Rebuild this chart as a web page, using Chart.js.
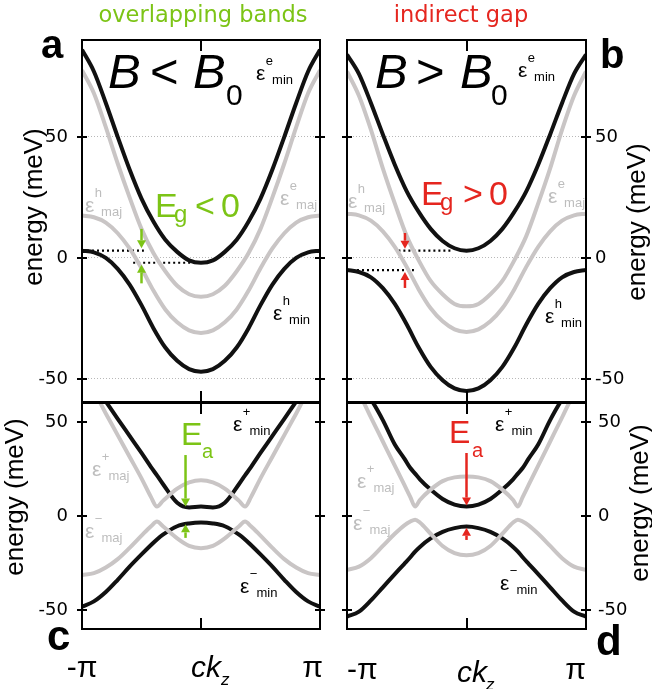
<!DOCTYPE html>
<html><head><meta charset="utf-8">
<script src="https://cdn.jsdelivr.net/npm/chart.js@4.4.1/dist/chart.umd.min.js"></script>
<style>
html,body{margin:0;padding:0;background:#fff;}
#wrap{position:relative;width:652px;height:689px;overflow:hidden;}
canvas{position:absolute;left:0;top:0;}
</style></head><body><div id="wrap">
<canvas id="ca" width="652" height="689"></canvas>
<canvas id="cb" width="652" height="689"></canvas>
<canvas id="cc" width="652" height="689"></canvas>
<canvas id="cd" width="652" height="689"></canvas>
</div>
<script>
// ---------- data (x in units of pi, energies in meV) ----------
const kzAB = [-1,-0.9,-0.8,-0.7,-0.6,-0.5,-0.4,-0.3,-0.2,-0.1,0,0.1,0.2,0.3,0.4,0.5,0.6,0.7,0.8,0.9,1];
const a_eMin = [86,77,64,50,36.5,24.5,15,7.5,2.5,-1,-2,-1,2.5,7.5,15,24.5,36.5,50,64,77,86];
const a_eMaj = [77.5,68,54,39,25,12,2,-5.5,-11.5,-15,-16,-15,-11.5,-5.5,2,12,25,39,54,68,77.5];
const a_hMaj = [17.5,16.8,14.6,10.2,3.9,-4.3,-13.5,-21.3,-26.6,-29.9,-31,-29.9,-26.6,-21.3,-13.5,-4.3,3.9,10.2,14.6,16.8,17.5];
const a_hMin = [3,2.3,0,-4.5,-11,-19.5,-29,-37,-42.5,-45.9,-47,-45.9,-42.5,-37,-29,-19.5,-11,-4.5,0,2.3,3];
const b_eMin = [84,76,64,51,38.5,27.5,19,12,7,4,3,4,7,12,19,27.5,38.5,51,64,76,84];
const b_eMaj = [77,67,53,37,22.5,9,-1,-9.5,-15,-19,-20,-19,-15,-9.5,-1,9,22.5,37,53,67,77];
const b_hMaj = [18.3,17.6,15.4,11,4.6,-3.7,-13,-20.8,-26.2,-29.5,-30.6,-29.5,-26.2,-20.8,-13,-3.7,4.6,11,15.4,17.6,18.3];
const b_hMin = [-5,-5.8,-8,-12.5,-19,-27.5,-37,-45,-50.5,-53.9,-55,-53.9,-50.5,-45,-37,-27.5,-19,-12.5,-8,-5.8,-5];

const kzC = [-1,-0.9,-0.8,-0.7,-0.6,-0.5,-0.42,-0.37,-0.32,-0.2,-0.1,0,0.1,0.2,0.32,0.37,0.42,0.5,0.6,0.7,0.8,0.9,1];
const c_pMin = [75,70,60.9,51.7,42.6,33.5,26,21.6,17,7,4.5,5,4.5,7,17,21.6,26,33.5,42.6,51.7,60.9,70,75];
const c_pMaj = [72,66,54.5,43,31.5,20,10,5,8,14.5,17.8,19,17.8,14.5,8,5,10,20,31.5,43,54.5,66,72];
const c_mMaj = [-31.4,-30.5,-27.5,-23,-17,-10.5,-5.5,-3,-5.5,-12,-16,-17.2,-16,-12,-5.5,-3,-5.5,-10.5,-17,-23,-27.5,-30.5,-31.4];
const c_mMin = [-48.3,-45.5,-40.5,-34,-27,-20.5,-15.5,-12.5,-10,-5.5,-4,-3.5,-4,-5.5,-10,-12.5,-15.5,-20.5,-27,-34,-40.5,-45.5,-48.3];

const kzD = [-1,-0.9,-0.8,-0.7,-0.6,-0.52,-0.47,-0.43,-0.39,-0.3,-0.2,-0.1,0,0.1,0.2,0.3,0.39,0.43,0.47,0.52,0.6,0.7,0.8,0.9,1];
const d_pMin = [74,70,62,51,38,30.5,25.5,22.5,19.5,14,9,6,5,6,9,14,19.5,22.5,25.5,30.5,38,51,62,70,74];
const d_pMaj = [72,65,52.4,39.6,26.8,16.5,10,5,8.5,14,18.5,20.5,21,20.5,18.5,14,8.5,5,10,16.5,26.8,39.6,52.4,65,72];
const d_mMaj = [-28.7,-27,-22.5,-16,-9.5,-5,-3,-2,-3.5,-9.5,-16,-19.8,-21,-19.8,-16,-9.5,-3.5,-2,-3,-5,-9.5,-16,-22.5,-27,-28.7];
const d_mMin = [-53.6,-51,-45,-38,-31,-25.5,-22,-19,-16.5,-12,-8.5,-6.5,-5.7,-6.5,-8.5,-12,-16.5,-19,-22,-25.5,-31,-38,-45,-51,-53.6];

const yTicks = [-50, 0, 50];
const xTicks = [-1, 0, 1];
const xTickLabelsC = ['-π', '', 'π\u2002'];
const xTickLabelsD = ['-π', '', 'π'];

// gap markers (data units)
const a_gapLines = {upper: {x: [-1, -0.48], y: 3}, lower: {x: [-0.57, -0.03], y: -2}};
const b_gapLines = {upper: {x: [-0.57, -0.11], y: 3}, lower: {x: [-1, -0.44], y: -5}};

// ---------- styles ----------
const GREEN = '#7cc416', RED = '#e5261f', GREY = '#c9c5c5', GREYTXT = '#bdbdbd', BLACK = '#111111';
const SANS = '"Liberation Sans", Arial, sans-serif';
const DJ = '"DejaVu Sans", sans-serif';

function curve(kz, vals, color) {
  return {data: kz.map((x, i) => ({x, y: vals[i]})), borderColor: color, borderWidth: 4,
          pointRadius: 0, cubicInterpolationMode: 'monotone', fill: false};
}
function dotted(seg) {
  return {data: seg.x.map(x => ({x, y: seg.y})), borderColor: '#000', borderWidth: 2.2,
          borderDash: [2, 3], pointRadius: 0, fill: false};
}

function txt(ctx, s, x, y, o) {
  ctx.save();
  ctx.font = (o.style || 'normal') + ' ' + (o.weight || 'normal') + ' ' + o.size + 'px ' + (o.family || SANS);
  ctx.fillStyle = o.color || '#000';
  ctx.textAlign = o.align || 'left';
  ctx.textBaseline = o.baseline || 'alphabetic';
  ctx.translate(x, y);
  if (o.rot) ctx.rotate(o.rot);
  ctx.fillText(s, 0, 0);
  ctx.restore();
}
function eps(ctx, x, y, sup, sub, color) {
  ctx.save();
  ctx.fillStyle = color; ctx.textAlign = 'left'; ctx.textBaseline = 'alphabetic';
  ctx.font = '21px ' + SANS; ctx.fillText('ε', x, y);
  const w = ctx.measureText('ε').width;
  ctx.font = '13px ' + SANS; ctx.fillText(sup, x + w + 0.5, y - 15);
  const ws = ctx.measureText(sup).width;
  ctx.fillText(sub, x + w + ws - 0.5, y + 4);
  ctx.restore();
}
function arrow(ctx, x, y0, y1, color) {
  const dir = Math.sign(y1 - y0), hl = 8, hw = 4.5;
  ctx.save(); ctx.strokeStyle = color; ctx.fillStyle = color; ctx.lineWidth = 2.5;
  ctx.beginPath(); ctx.moveTo(x, y0); ctx.lineTo(x, y1 - dir * hl); ctx.stroke();
  ctx.beginPath(); ctx.moveTo(x, y1); ctx.lineTo(x - hw, y1 - dir * hl); ctx.lineTo(x + hw, y1 - dir * hl);
  ctx.closePath(); ctx.fill(); ctx.restore();
}
function ytitle(ctx, cx, cy) {
  txt(ctx, 'energy (meV)', cx, cy, {size: 26, family: SANS, align: 'center', baseline: 'middle', rot: -Math.PI / 2});
}

const drawers = {};
const panelPlugin = {
  id: 'panel',
  afterDatasetsDraw(chart) {
    const draw = drawers[chart.canvas.id];
    const ctx = chart.ctx, a = chart.chartArea, xs = chart.scales.x, ys = chart.scales.y;
    ctx.save();
    ctx.strokeStyle = '#000'; ctx.lineWidth = 2;
    ctx.strokeRect(a.left, a.top, a.right - a.left, a.bottom - a.top);
    ctx.beginPath();
    yTicks.forEach(v => {
      const py = Math.round(ys.getPixelForValue(v));
      ctx.moveTo(a.left - 5, py); ctx.lineTo(a.left + 5, py);
      ctx.moveTo(a.right - 5, py); ctx.lineTo(a.right + 5, py);
    });
    const cx = Math.round(xs.getPixelForValue(0));
    ctx.moveTo(cx, a.top); ctx.lineTo(cx, a.top + 11);
    ctx.moveTo(cx, a.bottom); ctx.lineTo(cx, a.bottom - 11);
    ctx.stroke();
    ctx.restore();
    const P = (x, y) => [xs.getPixelForValue(x), ys.getPixelForValue(y)];
    if (draw) draw(ctx, P);
  }
};
Chart.register(panelPlugin);

function makeChart(id, c) {
  const W = 652, H = 689;
  const axisW = c.side === 'left' ? c.left : W - c.right;
  const pad = {
    left: c.side === 'left' ? 0 : c.left,
    right: c.side === 'left' ? W - c.right : 0,
    top: c.top,
    bottom: H - c.bottom - (c.xaxis ? 60 : 0)
  };
  drawers[id] = c.draw;
  const showX = !!c.xaxis;
  const xl = c.xlabels || xTickLabelsD;
  return new Chart(document.getElementById(id), {
    type: 'line',
    data: {datasets: c.datasets},
    options: {
      responsive: false, animation: false, devicePixelRatio: 1,
      layout: {padding: pad},
      plugins: {legend: {display: false}, tooltip: {enabled: false}},
      scales: {
        x: {
          type: 'linear', min: -1, max: 1, display: showX, position: 'bottom',
          grid: {display: false, drawTicks: false}, border: {display: false},
          afterBuildTicks: s => { s.ticks = xTicks.map(v => ({value: v})); },
          afterFit: s => { s.height = showX ? 60 : 0; },
          ticks: {
            autoSkip: false, maxRotation: 0, minRotation: 0, color: '#000',
            align: c.xalign || 'center', padding: c.xpad || 22,
            font: {family: SANS, size: 30},
            callback: v => xl[xTicks.indexOf(v)]
          }
        },
        y: {
          type: 'linear', min: c.ymin, max: c.ymax, position: c.side,
          afterBuildTicks: s => { s.ticks = yTicks.map(v => ({value: v})); },
          afterFit: s => { s.width = axisW; },
          grid: {display: !!c.grid, drawTicks: false, color: '#b8b8b8', lineWidth: 1},
          border: {display: false, dash: [1, 2]},
          ticks: {color: '#000', padding: c.ypad, font: {family: DJ, size: 18}}
        }
      }
    }
  });
}

// ---------- panel a ----------
makeChart('ca', {
  left: 82, right: 320, top: 40, bottom: 402, side: 'left', grid: true, ymin: -59.5, ymax: 90, ypad: 14,
  datasets: [
    curve(kzAB, a_eMaj, GREY), curve(kzAB, a_hMaj, GREY),
    curve(kzAB, a_eMin, BLACK), curve(kzAB, a_hMin, BLACK),
    dotted(a_gapLines.upper), dotted(a_gapLines.lower)
  ],
  draw(ctx, P) {
    txt(ctx, 'overlapping bands', 203, 22, {size: 22.5, family: DJ, color: GREEN, align: 'center'});
    txt(ctx, 'a', 41, 58, {size: 40, weight: 'bold'});
    ytitle(ctx, 35, 207);
    txt(ctx, 'B', 108, 88, {size: 49, style: 'italic'});
    txt(ctx, '<', 150, 88, {size: 49});
    txt(ctx, 'B', 193, 88, {size: 49, style: 'italic'});
    txt(ctx, '0', 226, 105, {size: 30});
    txt(ctx, 'E', 155, 217, {size: 34, color: GREEN});
    txt(ctx, 'g', 174, 222, {size: 24, color: GREEN});
    txt(ctx, '<', 195, 217, {size: 34, color: GREEN});
    txt(ctx, '0', 221, 217, {size: 34, color: GREEN});
    eps(ctx, 256, 80, 'e', 'min', '#000');
    eps(ctx, 85, 212, 'h', 'maj', GREYTXT);
    eps(ctx, 280, 205, 'e', 'maj', GREYTXT);
    eps(ctx, 273, 320, 'h', 'min', '#000');
    let p = P(-0.5, 12), q = P(-0.5, 4); arrow(ctx, p[0], p[1], q[1], GREEN);
    p = P(-0.5, -10.5); q = P(-0.5, -2.8); arrow(ctx, p[0], p[1], q[1], GREEN);
  }
});

// ---------- panel b ----------
makeChart('cb', {
  left: 347, right: 586, top: 40, bottom: 402, side: 'right', grid: true, ymin: -59.5, ymax: 90, ypad: 9,
  datasets: [
    curve(kzAB, b_eMaj, GREY), curve(kzAB, b_hMaj, GREY),
    curve(kzAB, b_eMin, BLACK), curve(kzAB, b_hMin, BLACK),
    dotted(b_gapLines.upper), dotted(b_gapLines.lower)
  ],
  draw(ctx, P) {
    txt(ctx, 'indirect gap', 461, 22, {size: 22.5, family: DJ, color: RED, align: 'center'});
    txt(ctx, 'b', 600, 68, {size: 40, weight: 'bold'});
    ytitle(ctx, 638, 222);
    txt(ctx, 'B', 375, 88, {size: 49, style: 'italic'});
    txt(ctx, '>', 416, 88, {size: 49});
    txt(ctx, 'B', 460, 88, {size: 49, style: 'italic'});
    txt(ctx, '0', 491, 105, {size: 30});
    txt(ctx, 'E', 421, 205, {size: 34, color: RED});
    txt(ctx, 'g', 440, 210, {size: 24, color: RED});
    txt(ctx, '>', 463, 205, {size: 34, color: RED});
    txt(ctx, '0', 489, 205, {size: 34, color: RED});
    eps(ctx, 518, 77, 'e', 'min', '#000');
    eps(ctx, 348, 208, 'h', 'maj', GREYTXT);
    eps(ctx, 548, 203, 'e', 'maj', GREYTXT);
    eps(ctx, 545, 323, 'h', 'min', '#000');
    let p = P(-0.515, 10.3), q = P(-0.515, 3.8); arrow(ctx, p[0], p[1], q[1], RED);
    p = P(-0.515, -12.4); q = P(-0.515, -5.8); arrow(ctx, p[0], p[1], q[1], RED);
  }
});

// ---------- panel c ----------
makeChart('cc', {
  left: 82, right: 320, top: 403, bottom: 629, side: 'left', grid: false, ymin: -60.2, ymax: 60.1, ypad: 14,
  xaxis: true, xalign: 'center', xpad: 22, xlabels: xTickLabelsC,
  datasets: [
    curve(kzC, c_pMaj, GREY), curve(kzC, c_mMaj, GREY),
    curve(kzC, c_pMin, BLACK), curve(kzC, c_mMin, BLACK)
  ],
  draw(ctx, P) {
    txt(ctx, 'c', 47, 650, {size: 42, weight: 'bold'});
    ytitle(ctx, 16, 497);
    txt(ctx, 'ck', 191, 677, {size: 30, style: 'italic'});
    txt(ctx, 'z', 221, 685, {size: 17, style: 'italic'});
    txt(ctx, 'E', 181, 445, {size: 32, color: GREEN});
    txt(ctx, 'a', 202, 458, {size: 20, color: GREEN});
    eps(ctx, 233, 431, '+', 'min', '#000');
    eps(ctx, 92, 476, '+', 'maj', GREYTXT);
    eps(ctx, 85, 538, '−', 'maj', GREYTXT);
    eps(ctx, 240, 593, '−', 'min', '#000');
    let p = P(-0.13, 32.4), q = P(-0.13, 5); arrow(ctx, p[0], p[1], q[1], GREEN);
    p = P(-0.13, -11.7); q = P(-0.13, -4.5); arrow(ctx, p[0], p[1], q[1], GREEN);
  }
});

// ---------- panel d ----------
makeChart('cd', {
  left: 347, right: 586, top: 403, bottom: 629, side: 'right', grid: false, ymin: -60.2, ymax: 60.1, ypad: 12,
  xaxis: true, xalign: 'inner', xpad: 24, xlabels: xTickLabelsD,
  datasets: [
    curve(kzD, d_pMaj, GREY), curve(kzD, d_mMaj, GREY),
    curve(kzD, d_pMin, BLACK), curve(kzD, d_mMin, BLACK)
  ],
  draw(ctx, P) {
    txt(ctx, 'd', 596, 655, {size: 42, weight: 'bold'});
    ytitle(ctx, 641, 503);
    txt(ctx, 'ck', 457, 682, {size: 30, style: 'italic'});
    txt(ctx, 'z', 486, 690, {size: 17, style: 'italic'});
    txt(ctx, 'E', 449, 443, {size: 32, color: RED});
    txt(ctx, 'a', 472, 457, {size: 20, color: RED});
    eps(ctx, 495, 431, '+', 'min', '#000');
    eps(ctx, 357, 488, '+', 'maj', GREYTXT);
    eps(ctx, 353, 530, '−', 'maj', GREYTXT);
    eps(ctx, 500, 590, '−', 'min', '#000');
    let p = P(0, 33.5), q = P(0, 5.5); arrow(ctx, p[0], p[1], q[1], RED);
    p = P(0, -12.8); q = P(0, -6.3); arrow(ctx, p[0], p[1], q[1], RED);
  }
});
</script></body></html>
